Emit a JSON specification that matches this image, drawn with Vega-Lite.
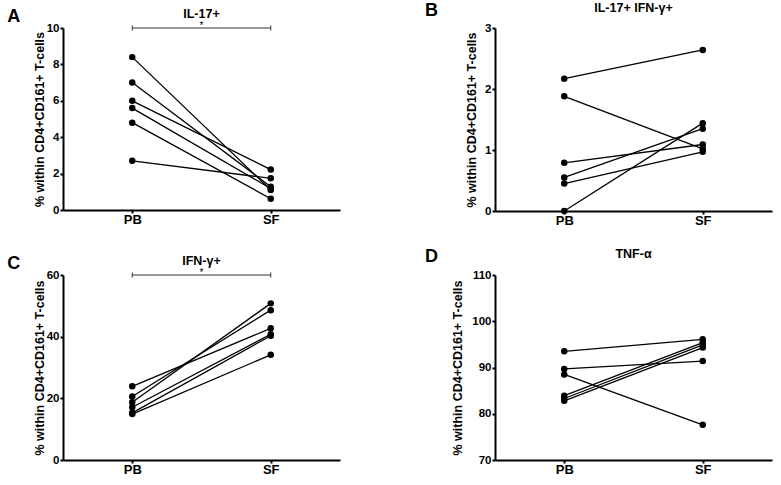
{
  "$schema": "https://vega.github.io/schema/vega-lite/v6.json",
  "background": "white",
  "padding": {"left": 7, "top": 1, "right": 5, "bottom": 2},
  "config": {
    "font": "Liberation Sans",
    "view": {"stroke": null},
    "axis": {"grid": false, "domainColor": "#000", "domainWidth": 2, "tickColor": "#000", "tickWidth": 2, "tickSize": 3, "labelPadding": 1, "labelColor": "#000", "labelFont": "Liberation Sans", "labelFontWeight": "bold", "titleFont": "Liberation Sans", "titleFontWeight": "bold", "titleColor": "#000", "titleFontSize": 12.5, "titlePadding": 0},
    "axisX": {"labelFontSize": 13, "labelAngle": 0, "labelPadding": 0},
    "axisY": {"labelFontSize": 11.5},
    "title": {"font": "Liberation Sans", "fontWeight": "bold", "color": "#000"}
  },
  "datasets": {
    "obs": [
      {"panel": "A", "subject": 1, "site": "PB", "value": 8.4}, {"panel": "A", "subject": 1, "site": "SF", "value": 1.1},
      {"panel": "A", "subject": 2, "site": "PB", "value": 7.0}, {"panel": "A", "subject": 2, "site": "SF", "value": 1.28},
      {"panel": "A", "subject": 3, "site": "PB", "value": 6.0}, {"panel": "A", "subject": 3, "site": "SF", "value": 2.22},
      {"panel": "A", "subject": 4, "site": "PB", "value": 5.6}, {"panel": "A", "subject": 4, "site": "SF", "value": 1.18},
      {"panel": "A", "subject": 5, "site": "PB", "value": 4.8}, {"panel": "A", "subject": 5, "site": "SF", "value": 0.62},
      {"panel": "A", "subject": 6, "site": "PB", "value": 2.7}, {"panel": "A", "subject": 6, "site": "SF", "value": 1.74},
      {"panel": "B", "subject": 1, "site": "PB", "value": 2.17}, {"panel": "B", "subject": 1, "site": "SF", "value": 2.64},
      {"panel": "B", "subject": 2, "site": "PB", "value": 1.88}, {"panel": "B", "subject": 2, "site": "SF", "value": 1.02},
      {"panel": "B", "subject": 3, "site": "PB", "value": 0.79}, {"panel": "B", "subject": 3, "site": "SF", "value": 1.09},
      {"panel": "B", "subject": 4, "site": "PB", "value": 0.55}, {"panel": "B", "subject": 4, "site": "SF", "value": 1.35},
      {"panel": "B", "subject": 5, "site": "PB", "value": 0.45}, {"panel": "B", "subject": 5, "site": "SF", "value": 0.97},
      {"panel": "B", "subject": 6, "site": "PB", "value": 0.0}, {"panel": "B", "subject": 6, "site": "SF", "value": 1.44},
      {"panel": "C", "subject": 1, "site": "PB", "value": 23.9}, {"panel": "C", "subject": 1, "site": "SF", "value": 42.7},
      {"panel": "C", "subject": 2, "site": "PB", "value": 20.6}, {"panel": "C", "subject": 2, "site": "SF", "value": 48.6},
      {"panel": "C", "subject": 3, "site": "PB", "value": 18.7}, {"panel": "C", "subject": 3, "site": "SF", "value": 50.8},
      {"panel": "C", "subject": 4, "site": "PB", "value": 17.1}, {"panel": "C", "subject": 4, "site": "SF", "value": 40.8},
      {"panel": "C", "subject": 5, "site": "PB", "value": 15.3}, {"panel": "C", "subject": 5, "site": "SF", "value": 40.3},
      {"panel": "C", "subject": 6, "site": "PB", "value": 14.9}, {"panel": "C", "subject": 6, "site": "SF", "value": 34.1},
      {"panel": "D", "subject": 1, "site": "PB", "value": 93.5}, {"panel": "D", "subject": 1, "site": "SF", "value": 96.1},
      {"panel": "D", "subject": 2, "site": "PB", "value": 89.7}, {"panel": "D", "subject": 2, "site": "SF", "value": 91.4},
      {"panel": "D", "subject": 3, "site": "PB", "value": 88.5}, {"panel": "D", "subject": 3, "site": "SF", "value": 77.6},
      {"panel": "D", "subject": 4, "site": "PB", "value": 83.9}, {"panel": "D", "subject": 4, "site": "SF", "value": 95.4},
      {"panel": "D", "subject": 5, "site": "PB", "value": 83.3}, {"panel": "D", "subject": 5, "site": "SF", "value": 94.9},
      {"panel": "D", "subject": 6, "site": "PB", "value": 82.8}, {"panel": "D", "subject": 6, "site": "SF", "value": 94.3}
    ],
    "bracket": [
      {"panel": "A", "site": "PB", "value": 10}, {"panel": "A", "site": "SF", "value": 10},
      {"panel": "C", "site": "PB", "value": 60}, {"panel": "C", "site": "SF", "value": 60}
    ],
    "stars": [
      {"panel": "A", "site": "PB-SF", "value": 10, "label": "*"},
      {"panel": "C", "site": "PB-SF", "value": 60, "label": "*"}
    ]
  },
  "columns": 2,
  "spacing": {"row": 20, "column": 85},
  "concat": [
    {
      "title": {"text": "A", "orient": "left", "anchor": "end", "angle": 0, "align": "right", "baseline": "top", "fontSize": 18, "offset": 0, "frame": "bounds"},
      "vconcat": [{
        "width": 277, "height": 182,
        "title": {"text": "IL-17+", "fontSize": 12.5, "offset": 1},
        "encoding": {
          "x": {"field": "site", "type": "nominal", "scale": {"type": "point", "domain": ["PB", "PB-SF", "SF"], "padding": 1}, "axis": {"values": ["PB", "SF"], "title": null}},
          "y": {"field": "value", "type": "quantitative", "scale": {"domain": [0, 10], "nice": false}, "axis": {"values": [0, 2, 4, 6, 8, 10], "title": "% within CD4+CD161+ T-cells", "minExtent": 16}}
        },
        "layer": [
          {"data": {"name": "obs"}, "transform": [{"filter": "datum.panel === 'A'"}], "mark": {"type": "line", "color": "#000", "strokeWidth": 1.3}, "encoding": {"detail": {"field": "subject"}}},
          {"data": {"name": "obs"}, "transform": [{"filter": "datum.panel === 'A'"}], "mark": {"type": "circle", "size": 42, "color": "#000", "opacity": 1}},
          {"data": {"name": "bracket"}, "transform": [{"filter": "datum.panel === 'A'"}], "mark": {"type": "line", "color": "#333", "strokeWidth": 1}},
          {"data": {"name": "bracket"}, "transform": [{"filter": "datum.panel === 'A'"}], "mark": {"type": "tick", "orient": "vertical", "size": 5, "thickness": 1, "color": "#333", "opacity": 1}},
          {"data": {"name": "stars"}, "transform": [{"filter": "datum.panel === 'A'"}], "mark": {"type": "text", "fontSize": 10, "baseline": "alphabetic", "dy": 1, "color": "#000"}, "encoding": {"text": {"field": "label"}}}
        ]
      }]
    },
    {
      "title": {"text": "B", "orient": "left", "anchor": "end", "angle": 0, "align": "right", "baseline": "top", "fontSize": 18, "offset": 14, "frame": "bounds"},
      "vconcat": [{
        "width": 277, "height": 183,
        "title": {"text": "IL-17+ IFN-γ+", "fontSize": 12.5, "offset": 8},
        "encoding": {
          "x": {"field": "site", "type": "nominal", "scale": {"type": "point", "domain": ["PB", "PB-SF", "SF"], "padding": 1}, "axis": {"values": ["PB", "SF"], "title": null}},
          "y": {"field": "value", "type": "quantitative", "scale": {"domain": [0, 3], "nice": false}, "axis": {"values": [0, 1, 2, 3], "title": "% within CD4+CD161+ T-cells", "minExtent": 17}}
        },
        "layer": [
          {"data": {"name": "obs"}, "transform": [{"filter": "datum.panel === 'B'"}], "mark": {"type": "line", "color": "#000", "strokeWidth": 1.3}, "encoding": {"detail": {"field": "subject"}}},
          {"data": {"name": "obs"}, "transform": [{"filter": "datum.panel === 'B'"}], "mark": {"type": "circle", "size": 42, "color": "#000", "opacity": 1}}
        ]
      }]
    },
    {
      "title": {"text": "C", "orient": "left", "anchor": "end", "angle": 0, "align": "right", "baseline": "top", "fontSize": 18, "offset": 0, "frame": "bounds"},
      "vconcat": [{
        "width": 277, "height": 185,
        "title": {"text": "IFN-γ+", "fontSize": 12.5, "offset": 1},
        "encoding": {
          "x": {"field": "site", "type": "nominal", "scale": {"type": "point", "domain": ["PB", "PB-SF", "SF"], "padding": 1}, "axis": {"values": ["PB", "SF"], "title": null}},
          "y": {"field": "value", "type": "quantitative", "scale": {"domain": [0, 60], "nice": false}, "axis": {"values": [0, 20, 40, 60], "title": "% within CD4+CD161+ T-cells", "minExtent": 16}}
        },
        "layer": [
          {"data": {"name": "obs"}, "transform": [{"filter": "datum.panel === 'C'"}], "mark": {"type": "line", "color": "#000", "strokeWidth": 1.3}, "encoding": {"detail": {"field": "subject"}}},
          {"data": {"name": "obs"}, "transform": [{"filter": "datum.panel === 'C'"}], "mark": {"type": "circle", "size": 42, "color": "#000", "opacity": 1}},
          {"data": {"name": "bracket"}, "transform": [{"filter": "datum.panel === 'C'"}], "mark": {"type": "line", "color": "#333", "strokeWidth": 1}},
          {"data": {"name": "bracket"}, "transform": [{"filter": "datum.panel === 'C'"}], "mark": {"type": "tick", "orient": "vertical", "size": 5, "thickness": 1, "color": "#333", "opacity": 1}},
          {"data": {"name": "stars"}, "transform": [{"filter": "datum.panel === 'C'"}], "mark": {"type": "text", "fontSize": 10, "baseline": "alphabetic", "dy": 1, "color": "#000"}, "encoding": {"text": {"field": "label"}}}
        ]
      }]
    },
    {
      "title": {"text": "D", "orient": "left", "anchor": "end", "angle": 0, "align": "right", "baseline": "top", "fontSize": 18, "offset": 0, "frame": "bounds"},
      "vconcat": [{
        "width": 277, "height": 185,
        "title": {"text": "TNF-α", "fontSize": 12.5, "offset": 9},
        "encoding": {
          "x": {"field": "site", "type": "nominal", "scale": {"type": "point", "domain": ["PB", "PB-SF", "SF"], "padding": 1}, "axis": {"values": ["PB", "SF"], "title": null}},
          "y": {"field": "value", "type": "quantitative", "scale": {"domain": [70, 110], "nice": false, "zero": false}, "axis": {"values": [70, 80, 90, 100, 110], "title": "% within CD4+CD161+ T-cells", "minExtent": 31}}
        },
        "layer": [
          {"data": {"name": "obs"}, "transform": [{"filter": "datum.panel === 'D'"}], "mark": {"type": "line", "color": "#000", "strokeWidth": 1.3}, "encoding": {"detail": {"field": "subject"}}},
          {"data": {"name": "obs"}, "transform": [{"filter": "datum.panel === 'D'"}], "mark": {"type": "circle", "size": 42, "color": "#000", "opacity": 1}}
        ]
      }]
    }
  ]
}
